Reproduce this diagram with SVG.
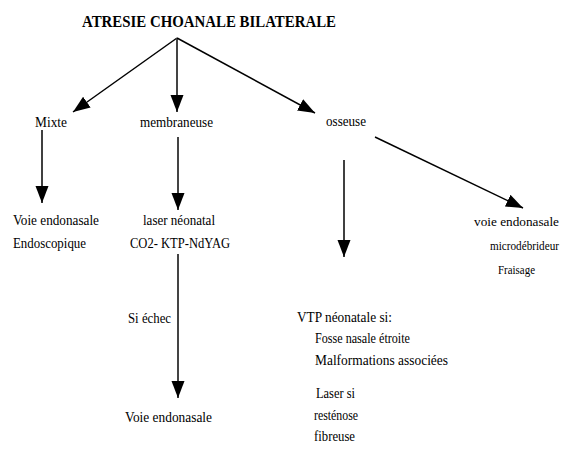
<svg xmlns="http://www.w3.org/2000/svg" width="566" height="474" viewBox="0 0 566 474">
<style>
.c{fill:none;stroke:#000;stroke-width:1.5}
.g{stroke:#444;stroke-width:2}
</style>
<defs>
<marker id="ah" markerUnits="userSpaceOnUse" markerWidth="18" markerHeight="14" refX="17" refY="6.5" orient="auto">
<path d="M0,0 L17,6.5 L0,13 Z" fill="#000"/>
</marker>
</defs>
<rect width="566" height="474" fill="#fff"/>
<g id="connectors">
<line class="c" x1="177" y1="38" x2="73" y2="112" marker-end="url(#ah)"/>
<line class="c g" x1="177" y1="38" x2="177" y2="112" marker-end="url(#ah)"/>
<line class="c" x1="177" y1="38" x2="315" y2="113" marker-end="url(#ah)"/>
<line class="c" x1="42" y1="130" x2="42" y2="203" marker-end="url(#ah)"/>
<line class="c g" x1="178" y1="137" x2="178" y2="210" marker-end="url(#ah)"/>
<line class="c g" x1="178" y1="254" x2="178" y2="398" marker-end="url(#ah)"/>
<line class="c" x1="344" y1="160" x2="344" y2="257" marker-end="url(#ah)"/>
<line class="c" x1="375" y1="137" x2="523" y2="208" marker-end="url(#ah)"/>
</g>
<g font-family="'Liberation Serif', 'Times New Roman', Times, serif" font-size="15" fill="#000">
<g id="title"><text font-weight="bold" font-size="17" x="82" y="27" textLength="254" lengthAdjust="spacingAndGlyphs">ATRESIE CHOANALE BILATERALE</text></g>
<g id="mixte"><text x="35" y="127" textLength="32" lengthAdjust="spacingAndGlyphs">Mixte</text></g>
<g id="membraneuse"><text x="140" y="127" textLength="73" lengthAdjust="spacingAndGlyphs">membraneuse</text></g>
<g id="osseuse"><text x="326" y="126" textLength="40" lengthAdjust="spacingAndGlyphs">osseuse</text></g>
<g id="voie-endoscopique">
<text x="13" y="225" textLength="86" lengthAdjust="spacingAndGlyphs">Voie endonasale</text>
<text x="13" y="248" textLength="73" lengthAdjust="spacingAndGlyphs">Endoscopique</text>
</g>
<g id="laser">
<text x="143" y="225" textLength="72" lengthAdjust="spacingAndGlyphs">laser néonatal</text>
<text x="130" y="248" textLength="100" lengthAdjust="spacingAndGlyphs">CO2- KTP-NdYAG</text>
</g>
<g id="si-echec"><text x="128" y="323" textLength="43" lengthAdjust="spacingAndGlyphs">Si échec</text></g>
<g id="voie-endonasale-bas"><text x="125" y="422" textLength="87" lengthAdjust="spacingAndGlyphs">Voie endonasale</text></g>
<g id="vtp">
<text x="297" y="322" textLength="95" lengthAdjust="spacingAndGlyphs">VTP néonatale si:</text>
<text x="315" y="343" textLength="95" lengthAdjust="spacingAndGlyphs">Fosse nasale étroite</text>
<text x="315" y="365" textLength="133" lengthAdjust="spacingAndGlyphs">Malformations associées</text>
</g>
<g id="laser-restenose">
<text x="316" y="398" textLength="39" lengthAdjust="spacingAndGlyphs">Laser si</text>
<text x="314" y="420" textLength="44" lengthAdjust="spacingAndGlyphs">resténose</text>
<text x="314" y="441" textLength="41" lengthAdjust="spacingAndGlyphs">fibreuse</text>
</g>
<g id="voie-microdebrideur" font-size="12.5">
<text x="474" y="226" textLength="85" lengthAdjust="spacingAndGlyphs">voie endonasale</text>
<text x="490" y="250" textLength="69" lengthAdjust="spacingAndGlyphs">microdébrideur</text>
<text x="498" y="274" textLength="37" lengthAdjust="spacingAndGlyphs">Fraisage</text>
</g>
</g>
</svg>
